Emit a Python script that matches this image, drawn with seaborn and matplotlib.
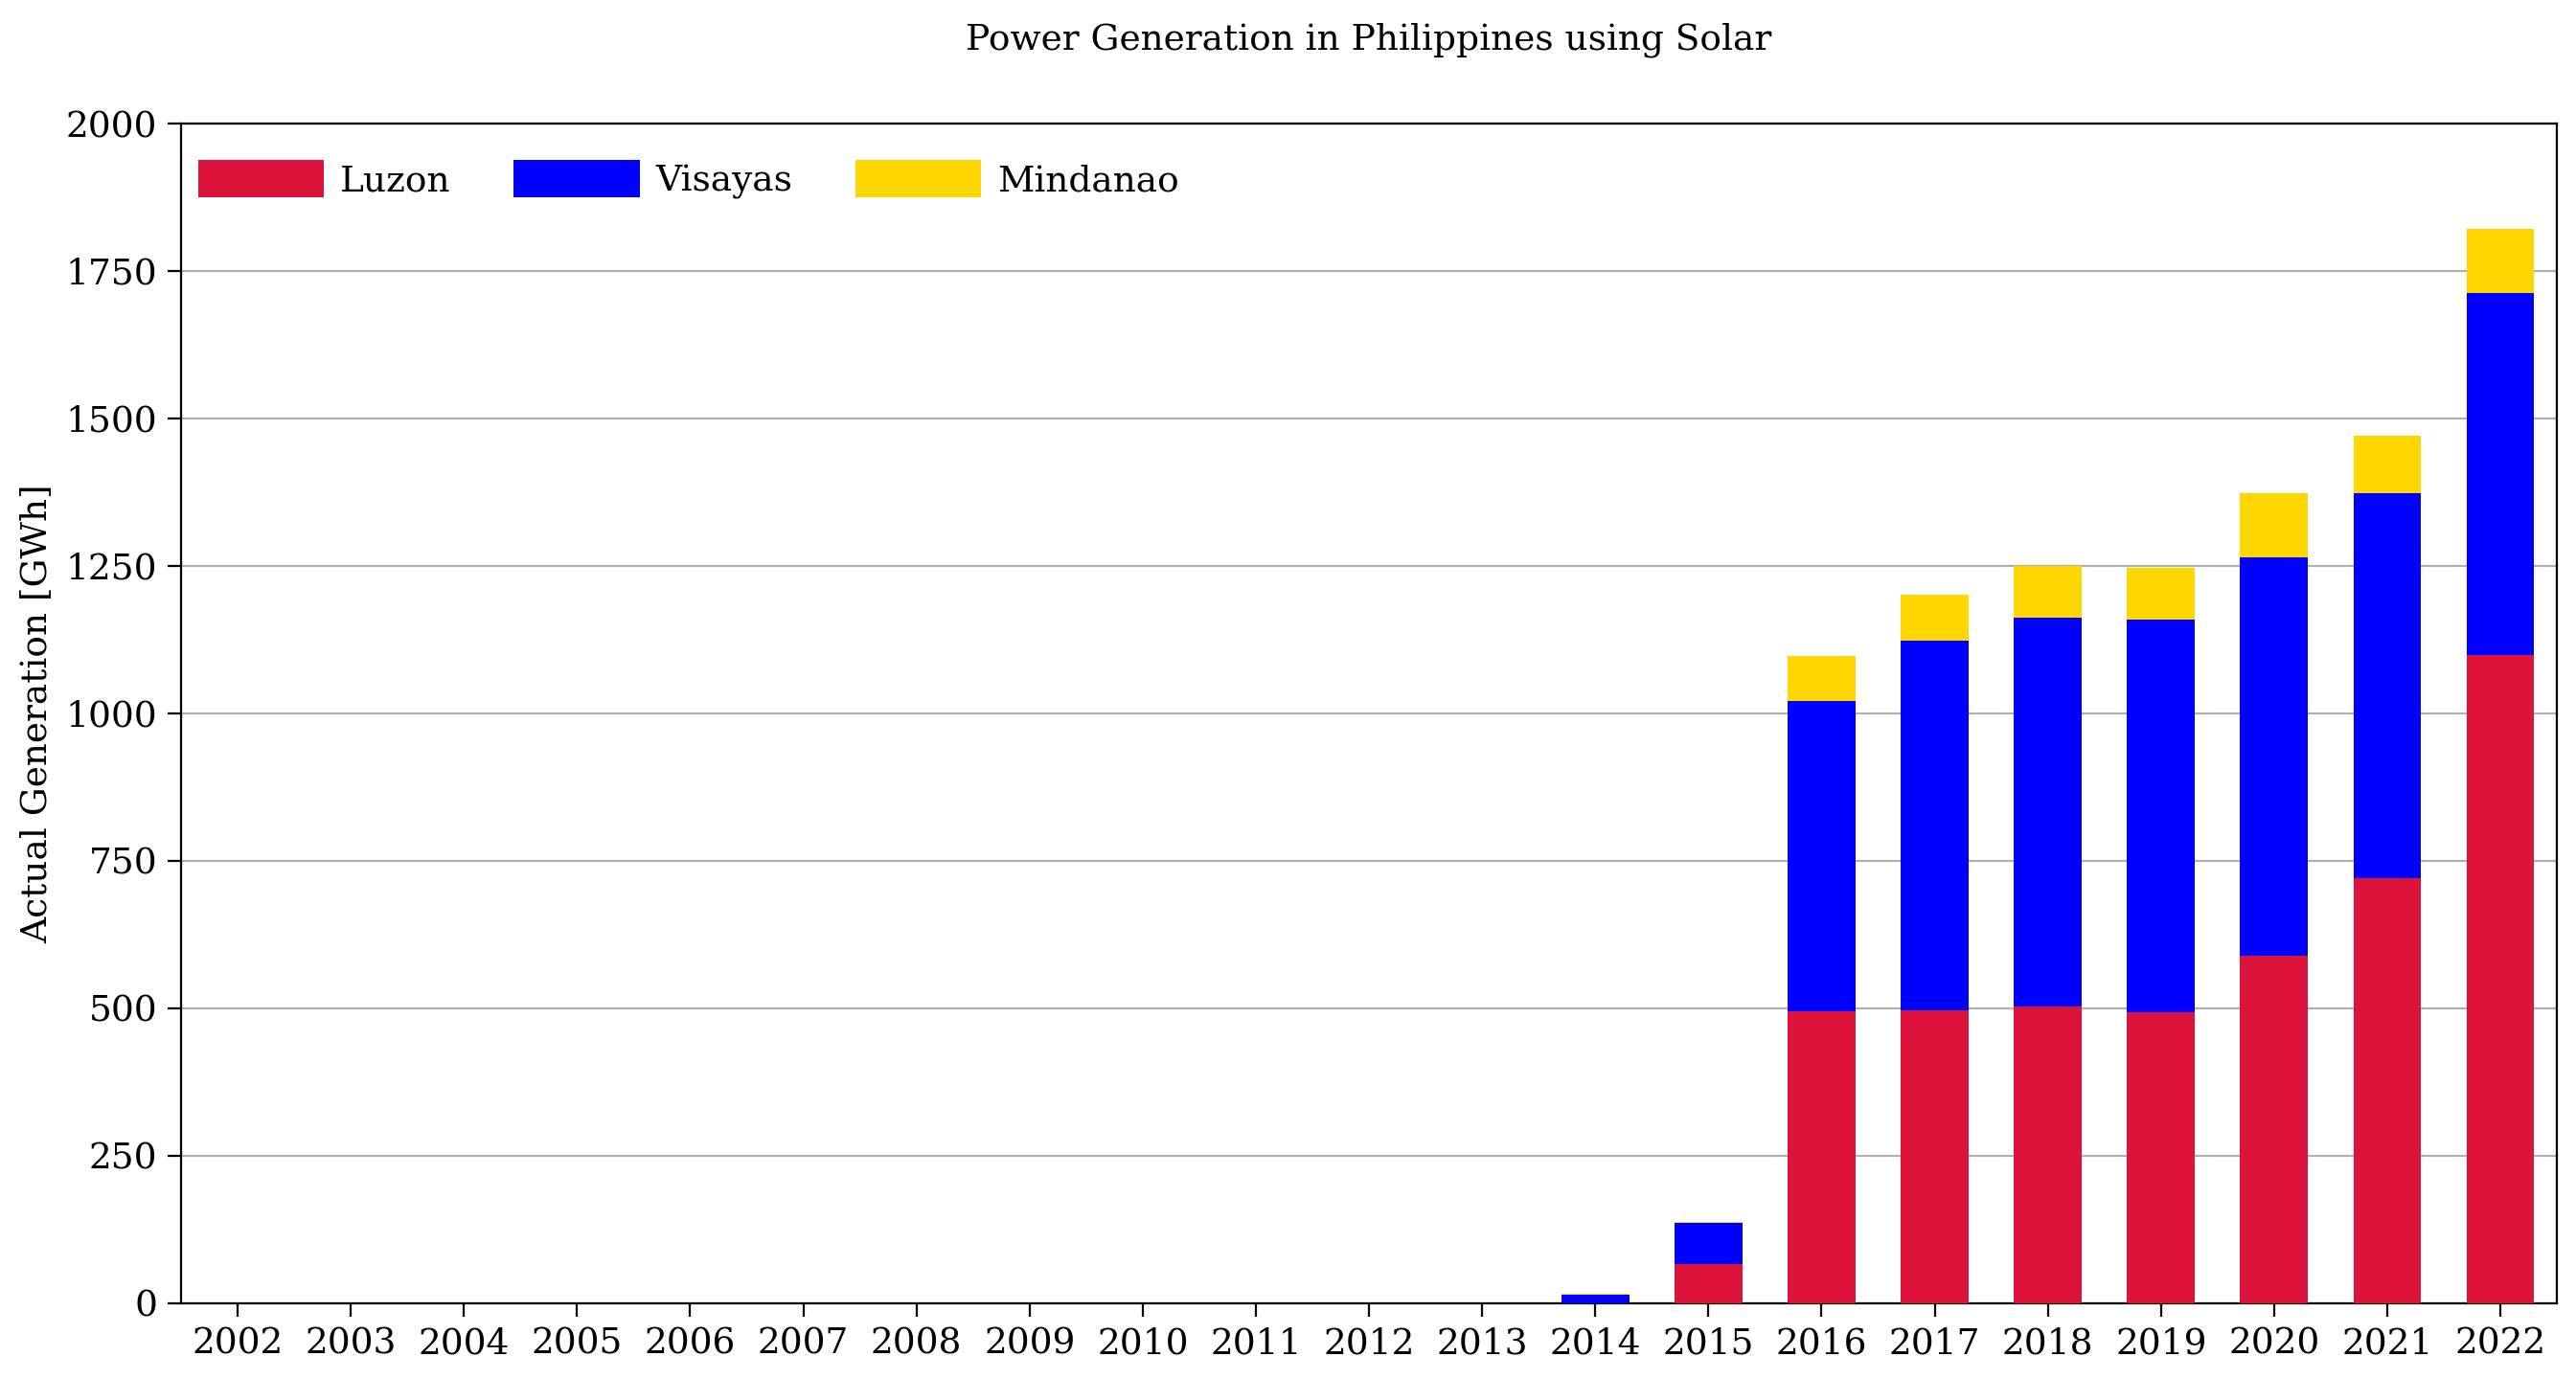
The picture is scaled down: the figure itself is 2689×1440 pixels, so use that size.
import matplotlib
matplotlib.use("Agg")
import matplotlib.pyplot as plt
import seaborn as sns
import numpy as np
import pandas as pd

years = [str(y) for y in range(2002, 2023)]
luzon = [0, 0, 0, 0, 0, 0, 0, 0, 0, 0, 0, 0, 0, 66, 495, 497, 503, 493, 589, 720, 1099]
visayas = [0, 0, 0, 0, 0, 0, 0, 0, 0, 0, 0, 0, 14.5, 70, 526, 626, 659, 666, 675, 653, 613]
mindanao = [0, 0, 0, 0, 0, 0, 0, 0, 0, 0, 0, 0, 1.5, 2, 76, 78, 88, 87, 109, 97, 110]

regions = ["Luzon", "Visayas", "Mindanao"]
colors = ["#DC143C", "#0000FF", "#FFD700"]

sns.set_style("white")
plt.rcParams["font.family"] = ["DejaVu Serif"]
plt.rcParams["text.color"] = "black"
plt.rcParams["axes.labelcolor"] = "black"
plt.rcParams["xtick.color"] = "black"
plt.rcParams["ytick.color"] = "black"

fig = plt.figure(figsize=(13.445, 7.2), dpi=200)
ax = fig.add_axes([0.0703, 0.0551, 0.9223, 0.8553])

df = pd.DataFrame({"Year": years, "Luzon": luzon, "Visayas": visayas, "Mindanao": mindanao})
bottom = np.zeros(len(years))
for reg, col in zip(regions, colors):
    sns.barplot(data=df, x="Year", y=reg, order=years, color=col, width=0.6,
                bottom=bottom.copy(), label=reg, ax=ax, saturation=1,
                linewidth=0, zorder=3)
    bottom = bottom + df[reg].values

ax.set_xlim(-0.5, len(years) - 0.5)
ax.set_ylim(0, 2000)
ax.set_yticks(np.arange(0, 2001, 250))
ax.yaxis.grid(True, color="#b0b0b0", linewidth=0.8, zorder=0)
ax.xaxis.grid(False)
ax.set_axisbelow(True)
for s in ax.spines.values():
    s.set_visible(True)
    s.set_color("black")
    s.set_linewidth(0.8)

ax.tick_params(axis="both", which="major", labelsize=13.5, length=5, width=0.8,
               direction="out", bottom=True, left=True, colors="black",
               labelcolor="black", pad=4)
ax.set_xlabel("")
ax.set_ylabel("Actual Generation [GWh]", fontsize=13.5, labelpad=4, color="black")
ax.set_title("Power Generation in Philippines using Solar", fontsize=13.5, pad=28,
             color="black")

leg = ax.legend(loc="upper left", bbox_to_anchor=(0.0012, 0.9817), ncol=3,
                frameon=False, fontsize=13.5, borderaxespad=0,
                handlelength=3.5, handleheight=1.25, handletextpad=0.45,
                columnspacing=1.75)
for t in leg.get_texts():
    t.set_color("black")

fig.savefig("out.png", dpi=200)
